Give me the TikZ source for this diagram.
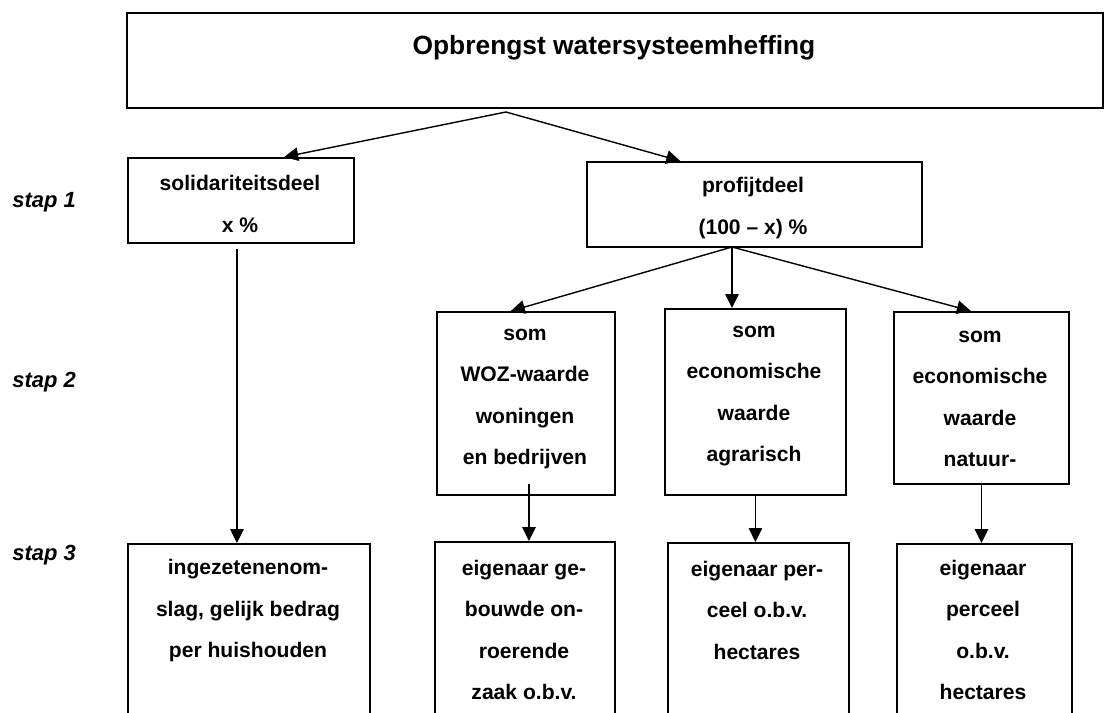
\documentclass[tikz,border=0pt]{standalone}
\usepackage{fontspec}
\setmainfont{Liberation Sans}
\usepackage{tikz}
\usetikzlibrary{calc}
\usetikzlibrary{arrows.meta}
\usetikzlibrary{positioning}
\tikzset{>={Triangle[length = 0.28cm, width = 0.27cm]}}
\tikzstyle{blok} = [rectangle, draw = black, line width = 1.1pt, inner sep = 0, anchor = north west]
\tikzstyle{tekst} = [align = center, inner sep = 0, font = \bfseries\fontsize{12}{23.6}\selectfont]
\tikzstyle{stap} = [anchor = west, inner sep = 0, font = \bfseries\itshape\fontsize{12.5}{15}\selectfont]
\tikzstyle{pijl} = [->, line width = 0.8pt]

\begin{document}
\begin{tikzpicture}[x = 0.02cm, y = -0.02cm]
\useasboundingbox (0, 0) rectangle (1105, 713);
\clip (0, 0) rectangle (1105, 713);
\node [blok, minimum width = 19.52cm, minimum height = 1.91cm] (T) at (126, 12) {};
\node [blok, minimum width = 4.52cm, minimum height = 1.70cm] (S) at (127, 157) {};
\node [blok, minimum width = 6.70cm, minimum height = 1.70cm] (P) at (586, 161) {};
\node [blok, minimum width = 3.56cm, minimum height = 3.66cm] (W) at (436, 311) {};
\node [blok, minimum width = 3.62cm, minimum height = 3.72cm] (Ag) at (664, 308) {};
\node [blok, minimum width = 3.50cm, minimum height = 3.44cm] (N) at (893, 311) {};
\node [blok, minimum width = 4.84cm, minimum height = 4cm] (I) at (127, 543) {};
\node [blok, minimum width = 3.60cm, minimum height = 4cm] (E1) at (434, 541) {};
\node [blok, minimum width = 3.62cm, minimum height = 4cm] (E2) at (667, 542) {};
\node [blok, minimum width = 3.50cm, minimum height = 4cm] (E3) at (896, 543) {};
\node [tekst, font = \bfseries\fontsize{15}{18}\selectfont] (Tt) at (614, 48) {Opbrengst watersysteemheffing};
\node [tekst] (St) at (240, 204) {solidariteitsdeel\\x \%};
\node [tekst] (Pt) at (753, 208) {profijtdeel\\(100 – x) \%};
\node [tekst] (Wt) at (525, 399) {som\\WOZ-waarde\\woningen\\en bedrijven};
\node [tekst] (Agt) at (754, 396) {som\\economische\\waarde\\agrarisch};
\node [tekst] (Nt) at (980, 399) {som\\economische\\waarde\\natuur-};
\node [tekst] (It) at (248, 611) {ingezetenenom-\\slag, gelijk bedrag\\per huishouden};
\node [tekst] (E1t) at (524, 630) {eigenaar ge-\\bouwde on-\\roerende\\zaak o.b.v.};
\node [tekst] (E2t) at (757, 610) {eigenaar per-\\ceel o.b.v.\\hectares};
\node [tekst] (E3t) at (983, 630) {eigenaar\\perceel\\o.b.v.\\hectares};
\node [stap] (stap1) at (12, 202) {stap 1};
\node [stap] (stap2) at (12, 382) {stap 2};
\node [stap] (stap3) at (12, 555) {stap 3};
\coordinate (t1) at (506, 112);
\coordinate (t2) at (732, 247);
\coordinate (s1) at ($(S.south) + (-4, 5)$);
\coordinate (s2) at ($(W.south) + (3, -12)$);
\draw [pijl] (t1) -- ($(S.north west)!0.69!(S.north east)$);
\draw [pijl] (t1) -- ($(P.north west)!0.28!(P.north east)$);
\draw [pijl] (t2) -- ($(W.north west)!0.416!(W.north east)$);
\draw [pijl] (t2) -- (t2 |- Ag.north);
\draw [pijl] (t2) -- ($(N.north west)!0.44!(N.north east)$);
\draw [pijl] (s1) -- (s1 |- I.north);
\draw [pijl] (s2) -- (s2 |- E1.north);
\draw [pijl] (Ag.south) -- (Ag.south |- E2.north);
\draw [pijl] (N.south) -- (N.south |- E3.north);
\end{tikzpicture}
\end{document}
